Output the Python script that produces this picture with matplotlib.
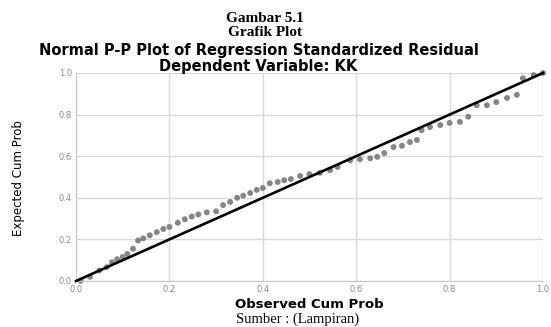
import matplotlib
matplotlib.use("Agg")
import matplotlib.pyplot as plt

observed = [0.01, 0.03, 0.05, 0.066, 0.077, 0.088, 0.10, 0.11, 0.122, 0.133, 0.144, 0.158,
            0.173, 0.187, 0.20, 0.218, 0.233, 0.248, 0.262, 0.28, 0.30, 0.315, 0.33, 0.345,
            0.358, 0.373, 0.387, 0.40, 0.415, 0.432, 0.446, 0.46, 0.48, 0.50, 0.522, 0.544,
            0.56, 0.587, 0.608, 0.63, 0.645, 0.66, 0.68, 0.698, 0.715, 0.73, 0.74, 0.758,
            0.78, 0.80, 0.822, 0.84, 0.858, 0.88, 0.90, 0.923, 0.944, 0.957, 0.98, 1.0]
expected = [0.0, 0.02, 0.05, 0.067, 0.09, 0.105, 0.115, 0.13, 0.155, 0.195, 0.205, 0.22,
            0.235, 0.25, 0.26, 0.28, 0.297, 0.31, 0.32, 0.33, 0.335, 0.365, 0.38, 0.40,
            0.41, 0.423, 0.438, 0.447, 0.47, 0.476, 0.484, 0.49, 0.505, 0.514, 0.52, 0.533,
            0.548, 0.58, 0.585, 0.59, 0.597, 0.615, 0.644, 0.65, 0.668, 0.678, 0.725, 0.74,
            0.75, 0.76, 0.765, 0.79, 0.845, 0.845, 0.86, 0.88, 0.895, 0.975, 0.99, 1.0]
ref_line = [0.0, 1.0]
ticks = [0.0, 0.2, 0.4, 0.6, 0.8, 1.0]
tick_labels = ["0.0", "0.2", "0.4", "0.6", "0.8", "1.0"]

W, H = 551, 327
fig = plt.figure(figsize=(W / 100, H / 100), dpi=100)
ax = fig.add_axes([76 / W, 1 - 281 / H, 467 / W, 208 / H])

ax.grid(True, color="#d9d9d9", linewidth=1.0)
ax.set_axisbelow(True)
ax.scatter(observed, expected, s=18, color="#858585", edgecolors="none", zorder=2,
           clip_on=False)
ax.plot(ref_line, ref_line, color="black", linewidth=1.9, zorder=3, clip_on=False)

ax.set_xlim(0, 1)
ax.set_ylim(0, 1)
ax.set_xticks(ticks)
ax.set_xticklabels(tick_labels)
ax.set_yticks(ticks)
ax.set_yticklabels(tick_labels)
ax.tick_params(length=0, labelsize=6, labelcolor="#8a8a8a", pad=3)
for s in ["top", "right"]:
    ax.spines[s].set_visible(False)
ax.spines["left"].set_color("#c8c8c8")
ax.spines["bottom"].set_color("#c8c8c8")


def fx(px):
    return px / W


def fy(py):
    return 1 - py / H


fig.text(fx(19), fy(178), "Expected Cum Prob", rotation=90, ha="center", va="center",
         fontsize=8.5, family="Liberation Sans Narrow")
fig.text(fx(309), fy(304), "Observed Cum Prob", ha="center", va="center", fontsize=9.5,
         fontweight="bold", family="DejaVu Sans")

fig.text(fx(265), fy(18), "Gambar 5.1", ha="center", va="center", fontsize=11,
         fontweight="bold", family="Liberation Serif")
fig.text(fx(265), fy(32), "Grafik Plot", ha="center", va="center", fontsize=11,
         fontweight="bold", family="Liberation Serif")
fig.text(fx(259), fy(50), "Normal P-P Plot of Regression Standardized Residual",
         ha="center", va="center", fontsize=10.5, fontweight="bold", family="DejaVu Sans")
fig.text(fx(258), fy(67), "Dependent Variable: KK", ha="center", va="center", fontsize=10.5,
         fontweight="bold", family="DejaVu Sans")
fig.text(fx(298), fy(319), "Sumber : (Lampiran)", ha="center", va="center", fontsize=10.5,
         family="Liberation Serif")

fig.savefig("out.png", dpi=100)
